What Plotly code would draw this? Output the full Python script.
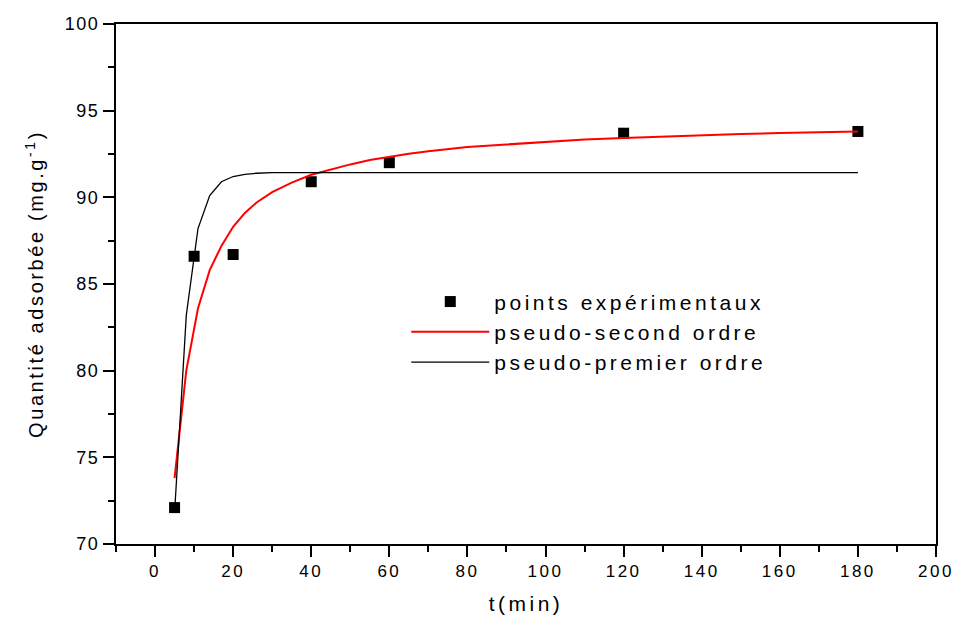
import plotly.graph_objects as go

# Experimental points
t_exp = [5, 10, 20, 40, 60, 120, 180]
q_exp = [72.1, 86.6, 86.7, 90.9, 92.0, 93.7, 93.8]

# Fitted curves
t_fit = [5, 8, 11, 14, 17, 20, 23, 26, 30, 35, 40, 45, 50, 55, 60, 65, 70, 75, 80,
         90, 100, 110, 120, 130, 140, 150, 160, 170, 180]
q_second = [73.8, 80.0, 83.6, 85.8, 87.2, 88.3, 89.1, 89.7, 90.3, 90.85, 91.3,
            91.62, 91.9, 92.15, 92.35, 92.52, 92.66, 92.78, 92.9,
            93.05, 93.2, 93.33, 93.43, 93.52, 93.6, 93.66, 93.71, 93.76, 93.8]
q_first = [71.8, 83.2, 88.2, 90.1, 90.9, 91.2, 91.33, 91.39, 91.42, 91.43, 91.43,
           91.43, 91.43, 91.43, 91.43, 91.43, 91.43, 91.43, 91.43,
           91.43, 91.43, 91.43, 91.43, 91.43, 91.43, 91.43, 91.43, 91.43, 91.43]

x_ticks = [0, 20, 40, 60, 80, 100, 120, 140, 160, 180, 200]
y_ticks = [70, 75, 80, 85, 90, 95, 100]

font_main = "Liberation Sans, Arial, sans-serif"

fig = go.Figure()
fig.add_trace(go.Scatter(x=t_exp, y=q_exp, mode="markers", name="points expérimentaux",
                         marker=dict(symbol="square", size=11, color="black")))
fig.add_trace(go.Scatter(x=t_fit, y=q_second, mode="lines", name="pseudo-second ordre",
                         line=dict(color="red", width=2)))
fig.add_trace(go.Scatter(x=t_fit, y=q_first, mode="lines", name="pseudo-premier ordre",
                         line=dict(color="black", width=1.3)))

axis_common = dict(showline=True, linecolor="black", linewidth=2, mirror=True,
                   ticks="outside", ticklen=11, tickwidth=1.5, tickcolor="black",
                   showgrid=False, zeroline=False)

fig.update_layout(
    width=962, height=624,
    margin=dict(l=116, r=21, t=24, b=79),
    paper_bgcolor="white", plot_bgcolor="white",
    font=dict(family=font_main, size=17, color="black"),
    xaxis=dict(range=[-10, 200], tickvals=x_ticks,
               minor=dict(dtick=10, tick0=0, ticks="outside", ticklen=6, tickwidth=1.5, tickcolor="black"),
               tickfont=dict(family=font_main, size=17),
               title=dict(text="t(min)", font=dict(family=font_main, size=21), standoff=16),
               **axis_common),
    yaxis=dict(range=[70, 100], tickvals=y_ticks,
               minor=dict(dtick=2.5, tick0=70, ticks="outside", ticklen=6, tickwidth=1.5, tickcolor="black"),
               tickfont=dict(family=font_main, size=18),
               title=dict(text="Quantité adsorbée (mg.g<sup>-1</sup>)", font=dict(family=font_main, size=20), standoff=20),
               **axis_common),
    legend=dict(x=0.354, y=0.505, xanchor="left", yanchor="top",
                bgcolor="rgba(0,0,0,0)", font=dict(family=font_main, size=21),
                itemwidth=78, tracegroupgap=0),
    showlegend=True,
)

post = """
function sp(sel, v){ document.querySelectorAll(sel).forEach(function(e){ e.style.letterSpacing = v; }); }
sp('.legendtext', '3.5px');
sp('.xtick text', '2.5px');
sp('.ytick text', '1.5px');
sp('.g-xtitle text', '3.5px');
sp('.g-ytitle text', '2.6px');
document.querySelectorAll('.legend [clip-path], .legend').forEach(function(e){ e.removeAttribute('clip-path'); });
"""
fig.write_html("out.html", post_script=post)
